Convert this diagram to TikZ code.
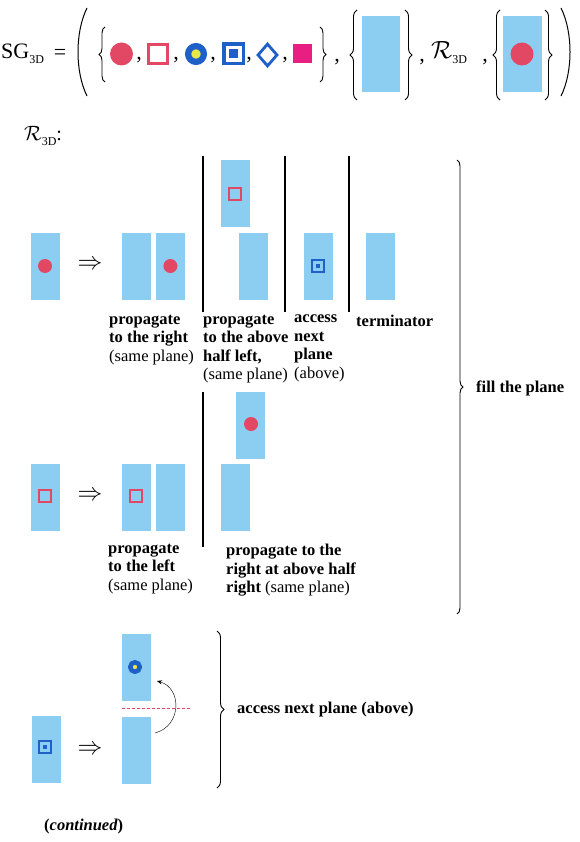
\documentclass[tikz,border=0pt]{standalone}
\usepackage{amsmath}
\usepackage{fontspec}
\setmainfont{Liberation Serif}
\usetikzlibrary{positioning,shapes.geometric,decorations.pathreplacing,arrows.meta}
\definecolor{cellblue}{RGB}{140,206,242}
\definecolor{dotred}{RGB}{226,72,100}
\definecolor{markblue}{RGB}{30,95,200}
\definecolor{markyellow}{RGB}{232,232,70}
\definecolor{markpink}{RGB}{232,30,130}
\newcommand{\tdsub}{\raisebox{-5pt}{\fontsize{12}{12}\selectfont 3D}}
\tikzset{
  cell/.style={fill=cellblue,inner sep=0,minimum width=29pt,minimum height=67pt},
  reddot/.style={circle,fill=dotred,inner sep=0,minimum size=14pt},
  redsq/.style={draw=dotred,line width=2pt,inner sep=0,minimum size=12pt},
  bluesq/.style={draw=markblue,line width=2.5pt,inner sep=0,minimum size=12pt,
    path picture={\fill[markblue] (path picture bounding box.center) +(-#1,-#1) rectangle +(#1,#1);}},
  bluesq/.default=2.2pt,
  bluering/.style={circle,draw=markblue,line width=4.5pt,fill=markyellow,inner sep=0,minimum size=9.5pt},
  implies/.style={inner sep=0,font=\fontsize{24}{26}\selectfont},
  caption/.style={anchor=north west,align=left,inner sep=0,font=\fontsize{16.5}{18.5}\selectfont},
  sepline/.style={line width=1.4pt},
  bracket/.style={decorate,line width=0.9pt,decoration={brace,amplitude=#1}},
  bracket/.default=7pt,
  comma/.style={inner sep=0,font=\fontsize{22}{24}\selectfont}
}
\begin{document}
\begin{tikzpicture}[x=1pt,y=-1pt]
  \useasboundingbox (0,0) rectangle (580,842);
  % the tuple
  \node[anchor=base west,inner sep=0,font=\fontsize{22}{24}\selectfont] (sg) at (1,59) {SG\tdsub};
  \node[inner sep=0,font=\fontsize{22}{24}\selectfont] (eq) at (60,54) {=};
  \draw[line width=1pt] (87,8) .. controls (75,32) and (75,72) .. (87,96);
  \draw[line width=1pt] (561,8) .. controls (573,32) and (573,72) .. (561,96);
  \draw[bracket=6pt] (105,82) -- (105,27);
  \node[reddot,minimum size=23pt] (m1) at (121.5,54) {};
  \node[redsq,line width=3pt,minimum size=19pt] (m2) at (158,54) {};
  \node[bluering,line width=6.25pt,minimum size=15.75pt] (m3) at (196,54) {};
  \node[bluesq=4.5pt,line width=3.5pt,minimum size=19.5pt] (m4) at (233.5,54) {};
  \node[diamond,draw=markblue,line width=2.8pt,inner sep=0,minimum width=20pt,minimum height=23pt] (m5) at (267.5,55) {};
  \node[fill=markpink,inner sep=0,minimum size=19pt] (m6) at (302.5,54) {};
  \foreach \x [count=\i] in {139,176,213,249,285} \node[comma] (c\i) at (\x,60) {,};
  \draw[bracket=6pt] (320,27) -- (320,82);
  \node[comma] (c6) at (337,62) {,};
  \draw[bracket] (357,100) -- (357,10);
  \node[cell,minimum width=38pt,minimum height=76pt] (bg) at (381,54) {};
  \draw[bracket] (405,10) -- (405,100);
  \node[comma] (c7) at (422,62) {,};
  \node[anchor=base west,inner sep=0,font=\fontsize{24}{26}\selectfont] (rr) at (431,59) {$\mathcal{R}$\tdsub};
  \node[comma] (c8) at (485,62) {,};
  \draw[bracket] (500,100) -- (500,10);
  \node[cell,minimum width=39pt,minimum height=76pt] (init) at (522.5,54) {};
  \node[reddot,minimum size=23pt] (initdot) at (522,54) {};
  \draw[bracket] (545,10) -- (545,100);
  \node[anchor=base west,inner sep=0,font=\fontsize{20}{22}\selectfont] (rules) at (24,141) {$\mathcal{R}$\tdsub:};

  % red dot
  \node[cell] (src1) at (45,266) {};
  \node[reddot] (d1) at (src1) {};
  \node[implies] (imp1) at (90,265) {$\Rightarrow$};
  \node[cell] (l1) at (136,266) {};
  \node[cell,right=5pt of l1] (r1) {};
  \node[reddot] (d1r) at (r1) {};
  \draw[sepline] (203,156) -- (203,312);
  \node[cell] (up1) at (235,193.5) {};
  \node[redsq] (s1) at (235,194) {};
  \node[cell] (lo1) at (253,266) {};
  \draw[sepline] (285,156) -- (285,312);
  \node[cell] (acc) at (318,266) {};
  \node[bluesq] (b1) at (acc) {};
  \draw[sepline] (349,156) -- (349,312);
  \node[cell] (term) at (380.5,266) {};
  \node[caption] (t1) at (109,315) {\textbf{propagate}\\\textbf{to the right}\\(same plane)};
  \node[caption] (t2) at (203,315) {\textbf{propagate}\\\textbf{to the above}\\\textbf{half left,}\\(same plane)};
  \node[caption] (t3) at (294,315) {\textbf{access}\\\textbf{next}\\\textbf{plane}\\(above)};
  \node[caption] (t4) at (356,315) {\textbf{terminator}};

  % red square
  \node[cell] (src2) at (45,497) {};
  \node[redsq] (s2) at (45,496) {};
  \node[implies] (imp2) at (90,496) {$\Rightarrow$};
  \node[cell] (l2) at (136,497) {};
  \node[cell,right=5pt of l2] (r2) {};
  \node[redsq] (s2l) at (136,496) {};
  \draw[sepline] (203,392) -- (203,547);
  \node[cell] (up2) at (250.5,425) {};
  \node[reddot] (d2) at (251,424) {};
  \node[cell] (lo2) at (235,497) {};
  \node[caption] (t5) at (108,544) {\textbf{propagate}\\\textbf{to the left}\\(same plane)};
  \node[caption] (t6) at (226,544) {\textbf{propagate to the}\\\textbf{right at above half}\\\textbf{right} (same plane)};

  \draw[bracket=6pt] (457,160) -- (457,614);
  \node[anchor=west,inner sep=0,font=\fontsize{16.5}{18}\selectfont\bfseries] (fill) at (476,388) {fill the plane};

  % blue square
  \node[cell] (src3) at (46,749) {};
  \node[bluesq] (b3) at (45,747) {};
  \node[implies] (imp3) at (90,750) {$\Rightarrow$};
  \node[cell] (up3) at (136.5,667) {};
  \node[bluering] (ring) at (135,667) {};
  \node[cell] (lo3) at (136.5,750) {};
  \draw[dotred,densely dashed] (122,708) -- (190,708);
  \coordinate (arrS) at (155,733);
  \coordinate (arrE) at (157,681);
  \draw[-{Stealth[length=5pt,width=4pt]}] (arrS) .. controls (182,726) and (182,688) .. (arrE);
  \draw[bracket] (217,631) -- (217,788);
  \node[anchor=west,inner sep=0,font=\fontsize{16.5}{18}\selectfont\bfseries] (next) at (237,710) {access next plane (above)};
  \node[anchor=west,inner sep=0,font=\fontsize{16.5}{18}\selectfont\bfseries] (cont) at (44,827) {(\textit{continued})};
\end{tikzpicture}
\end{document}
